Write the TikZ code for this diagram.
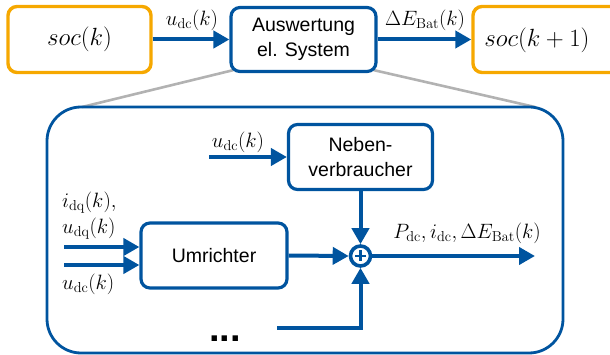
\documentclass[tikz,border=0pt]{standalone}
\usepackage[no-math]{fontspec}
\newfontfamily\arialf{Liberation Sans}
\usetikzlibrary{arrows.meta,calc,backgrounds}
\definecolor{rwthblue}{RGB}{0,84,159}
\definecolor{rwthorange}{RGB}{246,168,0}
\definecolor{zoomgray}{RGB}{178,178,178}
\begin{document}
\begin{tikzpicture}[x=1pt,y=-1pt,
  boxtext/.style={align=center,font=\arialf\fontsize{19.5}{24.5}\selectfont},
  bluebox/.style={boxtext,draw=rwthblue,fill=white,line width=3.2pt,rounded corners=9pt,inner sep=0pt},
  orangebox/.style={draw=rwthorange,line width=3.4pt,rounded corners=9pt,inner sep=0pt,font=\fontsize{24}{28}\selectfont},
  sig/.style={draw=rwthblue,line width=4pt,-{Triangle[length=16pt,width=17pt]}},
  lbl/.style={inner sep=0pt,font=\fontsize{22}{26}\selectfont},
  zoomline/.style={draw=zoomgray,line width=2.6pt}
]
\useasboundingbox (0,0) rectangle (610,355);
\clip (0,0) rectangle (610,355);

% top row
\node[orangebox,minimum width=143pt,minimum height=66pt] (soc) at (79.5,39.5) {$soc(k)$};
\node[bluebox,minimum width=145pt,minimum height=64pt] (ausw) at (303.5,39.5) {Auswertung\\el. System};
\node[orangebox,minimum width=160pt,minimum height=66pt] (socn) at (553,39.5) {};
\node[inner sep=0pt,font=\fontsize{24.5}{28}\selectfont] (socnt) at (537,40) {$soc(k+1)$};

\draw[sig] (soc.east) -- (ausw.west);
\draw[sig] (ausw.east) -- (socn.west);
\node[lbl] (l1) at (192,20) {$u_{\mathrm{dc}}(k)$};
\node[lbl] (l2) at (425,20) {$\Delta E_{\mathrm{Bat}}(k)$};

% big box
\node[draw=rwthblue,line width=2.8pt,rounded corners=34pt,minimum width=516pt,minimum height=246pt,inner sep=0pt] (big) at (305,230) {};

% zoom lines (behind)
\coordinate (zl) at (82,107);
\coordinate (zr) at (535,107);
\begin{scope}[on background layer]
\draw[zoomline] ($(ausw.south west)+(4,-3)$) -- (zl);
\draw[zoomline] ($(ausw.south east)+(-4,-3)$) -- (zr);
\end{scope}

% inner blocks
\node[bluebox,minimum width=144pt,minimum height=65pt] (neben) at (360.5,157) {Neben-\\verbraucher};
\node[bluebox,minimum width=146pt,minimum height=65pt] (umr) at (214,255.5) {Umrichter};
\node[draw=rwthblue,line width=3.6pt,circle,minimum size=20pt,inner sep=0pt] (sum) at (360.5,256) {};
\draw[rwthblue,line width=2.4pt] ($(sum.center)+(-5.5,0)$) -- ($(sum.center)+(5.5,0)$)
  ($(sum.center)+(0,-5.5)$) -- ($(sum.center)+(0,5.5)$);

% signals
\coordinate (nin) at (209,157);
\draw[sig] (nin) -- (neben.west);
\node[lbl] (l3) at (238,142) {$u_{\mathrm{dc}}(k)$};

\coordinate (in1) at (64,247);
\coordinate (in2) at (64,265);
\draw[sig] (in1) -- (in1 -| umr.west);
\draw[sig] (in2) -- (in2 -| umr.west);
\node[lbl,anchor=west] (l4) at (62,203) {$i_{\mathrm{dq}}(k),$};
\node[lbl,anchor=west] (l5) at (62,229) {$u_{\mathrm{dq}}(k)$};
\node[lbl,anchor=west] (l6) at (62,284) {$u_{\mathrm{dc}}(k)$};

\draw[sig] (umr.east) -- (sum.west);
\draw[sig] (neben.south) -- (sum.north);
\coordinate (out) at (535,256);
\draw[sig] (sum.east) -- (out);
\node[lbl] (l7) at (467,233) {$P_{\mathrm{dc}}, i_{\mathrm{dc}}, \Delta E_{\mathrm{Bat}}(k)$};

\coordinate (bin) at (277,328);
\draw[sig] (bin) -| (sum.south);

\node[inner sep=0pt,anchor=base,font=\arialf\bfseries\fontsize{38}{38}\selectfont] (dots) at (225,341) {...};
\end{tikzpicture}
\end{document}
